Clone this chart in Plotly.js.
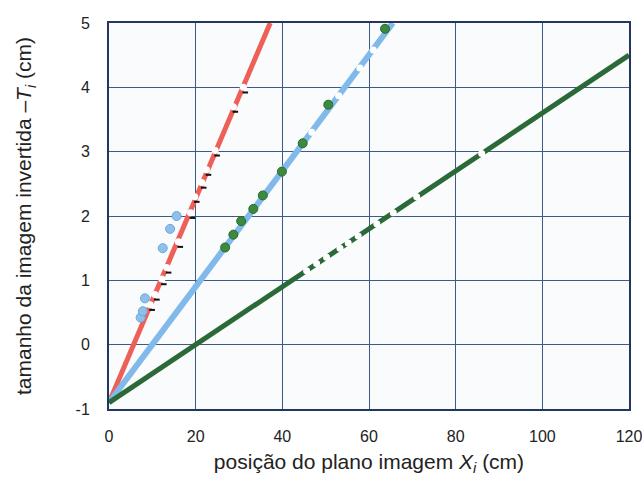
<!DOCTYPE html>
<html>
<head>
<meta charset="utf-8">
<script src="https://cdn.plot.ly/plotly-3.0.1.min.js"></script>
<style>
  html, body { margin: 0; padding: 0; background: #ffffff; }
  #chart { width: 642px; height: 479px; }
</style>
</head>
<body>
<div id="chart"></div>
<script>
// Fitted lines: end points of each straight line (x in cm, y in cm)
const redFitX = [0, 37.2];
const redFitY = [-0.9, 5.0];
const blueFitX = [0, 65.5];
const blueFitY = [-0.9, 5.0];
const greenFitX = [0, 120];
const greenFitY = [-0.9, 4.5];

// Measured points sitting on the red line (open markers)
const redPtsX = [9.5, 10.6, 12.2, 13.3, 16.0, 18.8, 19.8, 21.4, 22.5, 24.5, 28.7, 31.0];
const redPtsY = [0.62, 0.78, 1.02, 1.2, 1.6, 2.05, 2.3, 2.52, 2.72, 3.02, 3.7, 4.0];

// Light-blue dots next to the red line
const blueDotsX = [7.3, 7.8, 8.3, 12.4, 14.1, 15.6];
const blueDotsY = [0.42, 0.52, 0.72, 1.5, 1.8, 2.0];

// Green dots along the light-blue line
const greenDotsX = [26.8, 28.7, 30.5, 33.3, 35.5, 39.9, 44.7, 50.6, 63.7];
const greenDotsY = [1.51, 1.71, 1.92, 2.11, 2.32, 2.69, 3.13, 3.73, 4.91];

// Open markers on the light-blue line
const bluePtsX = [46.8, 53.0, 57.9, 61.0];
const bluePtsY = [3.3, 3.87, 4.3, 4.58];

// Open markers on the dark-green line
const greenPtsX = [45.6, 47.9, 50.2, 53.3, 55.2, 57.5, 61.8, 65.6, 71.0, 86.0];
const greenPtsY = [1.15, 1.26, 1.36, 1.5, 1.58, 1.69, 1.88, 2.05, 2.3, 2.97];

const xTicks = [0, 20, 40, 60, 80, 100, 120];
const yTicks = [-1, 0, 1, 2, 3, 4, 5];

const RED = '#ee5f58';
const LBLUE = '#80b9ea';
const DGREEN = '#2b6a36';

// small black whisker drawn just below/right of each red-line marker
const whiskX = redPtsX.map(v => v + 0.45);
const whiskY = redPtsY.map(v => v - 0.08);

const traces = [
  { x: redFitX, y: redFitY, mode: 'lines', line: { color: RED, width: 5 }, hoverinfo: 'skip' },
  { x: blueFitX, y: blueFitY, mode: 'lines', line: { color: LBLUE, width: 6 }, hoverinfo: 'skip' },
  { x: greenFitX, y: greenFitY, mode: 'lines', line: { color: DGREEN, width: 5 }, hoverinfo: 'skip' },
  { x: redPtsX, y: redPtsY, mode: 'markers',
    marker: { symbol: 'circle', size: 7, color: '#ffffff', line: { width: 0 } } },
  { x: whiskX, y: whiskY, mode: 'markers',
    marker: { symbol: 'line-ew', size: 4, line: { color: '#111111', width: 2 } } },
  { x: bluePtsX, y: bluePtsY, mode: 'markers',
    marker: { symbol: 'circle', size: 7, color: '#ffffff', line: { width: 0 } } },
  { x: greenPtsX, y: greenPtsY, mode: 'markers',
    marker: { symbol: 'circle', size: 7, color: '#ffffff', line: { width: 0 } } },
  { x: blueDotsX, y: blueDotsY, mode: 'markers',
    marker: { symbol: 'circle', size: 9, color: '#8ec0ec', line: { color: '#6fa6d8', width: 1 } } },
  { x: greenDotsX, y: greenDotsY, mode: 'markers',
    marker: { symbol: 'circle', size: 9, color: '#3d8a3f', line: { color: '#276a2c', width: 1 } } }
];

const FONT = 'Liberation Sans, Arial, sans-serif';
const tickFont = { family: FONT, size: 16, color: '#222222' };
const titleFont = { family: FONT, size: 21, color: '#222222' };

const layout = {
  width: 642,
  height: 479,
  margin: { l: 109, r: 13, t: 23, b: 70 },
  paper_bgcolor: '#ffffff',
  plot_bgcolor: '#f9fbfd',
  showlegend: false,
  xaxis: {
    range: [0, 120],
    tickvals: xTicks,
    ticktext: xTicks.map(String),
    ticks: '',
    ticklabelstandoff: 12,
    ticklabeloverflow: 'allow',
    tickfont: tickFont,
    showgrid: true,
    gridcolor: '#3b5a8a',
    gridwidth: 1,
    zeroline: false,
    showline: true,
    mirror: true,
    linecolor: '#22365e',
    linewidth: 2,
    title: {
      text: 'posição do plano imagem <i>X</i><sub><i>i</i></sub> (cm)',
      font: titleFont,
      standoff: 10
    }
  },
  yaxis: {
    range: [-1, 5],
    tickvals: yTicks,
    ticktext: yTicks.map(String),
    ticks: '',
    ticklabelstandoff: 14,
    tickfont: tickFont,
    showgrid: true,
    gridcolor: '#3b5a8a',
    gridwidth: 1,
    zeroline: false,
    showline: true,
    mirror: true,
    linecolor: '#22365e',
    linewidth: 2,
    title: {
      text: 'tamanho da imagem invertida –<i>T</i><sub><i>i</i></sub> (cm)',
      font: titleFont,
      standoff: 38
    }
  }
};

Plotly.newPlot('chart', traces, layout, { displayModeBar: false, staticPlot: true });
</script>
</body>
</html>
